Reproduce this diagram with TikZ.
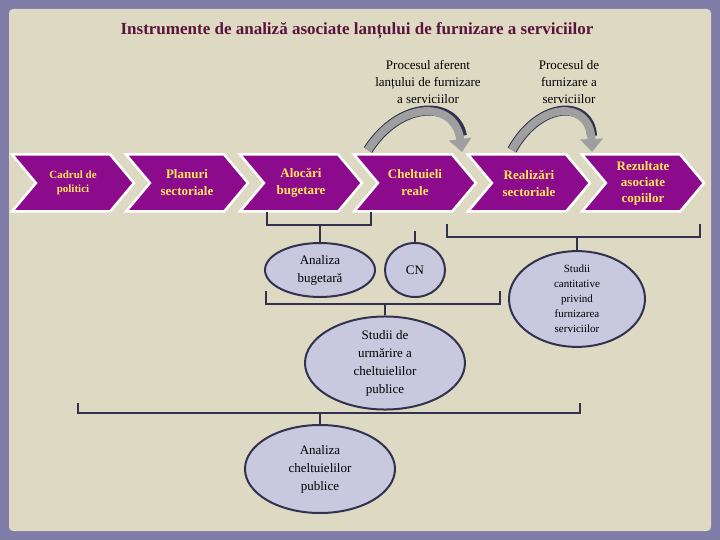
\documentclass[tikz,border=0pt]{standalone}
\usepackage{fontspec}
\setmainfont{Liberation Serif}
\usetikzlibrary{shapes.symbols,shapes.geometric,arrows.meta}
\definecolor{bgbeige}{RGB}{221,217,195}
\definecolor{framecol}{RGB}{128,124,168}
\definecolor{chevpurple}{RGB}{140,10,140}
\definecolor{chevtext}{RGB}{255,230,90}
\definecolor{ovalfill}{RGB}{200,200,222}
\definecolor{ovaldraw}{RGB}{50,50,80}
\definecolor{titlecol}{RGB}{90,20,60}
\tikzset{every picture/.style={line width=0.75pt}}
\tikzset{
  chev/.style={shape=signal, signal to=east, signal from=west, signal pointer angle=100,
    minimum width=122pt, minimum height=57pt, inner sep=0pt, draw=white, line width=2.5pt,
    fill=chevpurple, text=chevtext, align=center, font=\fontsize{13}{17}\selectfont\bfseries},
  oval/.style={ellipse, draw=ovaldraw, line width=2pt, fill=ovalfill, align=center, inner sep=0pt,
    font=\fontsize{13}{18}\selectfont},
  brack/.style={draw=ovaldraw, line width=2pt},
  bigarrow/.style={draw=gray!75, line width=8pt, -{Triangle[length=13pt,width=22pt]}},
}
\begin{document}
\begin{tikzpicture}[x=1pt,y=1pt,yscale=-1,xscale=1]
\useasboundingbox (0,0) rectangle (720,540);
\fill [framecol] (0,0) rectangle (720,540);
\fill [bgbeige, rounded corners=4pt] (9,9) rectangle (711,531);

%title
\node (title) at (357,31) [text=titlecol, font=\fontsize{17}{20}\selectfont\bfseries] {Instrumente de analiză asociate lanțului de furnizare a serviciilor};

%chevrons
\node [chev, font=\fontsize{11}{14}\selectfont\bfseries] (cadru) at (73,183) {Cadrul de\\politici};
\node [chev] (planuri) at (187,183) {Planuri\\sectoriale};
\node [chev] (alocari) at (301,183) {Alocări\\bugetare};
\node [chev] (chelt) at (415,183) {Cheltuieli\\reale};
\node [chev] (realiz) at (529,183) {Realizări\\sectoriale};
\node [chev, font=\fontsize{13}{16}\selectfont\bfseries] (rezult) at (643,183) {Rezultate\\asociate\\copiilor};

%process labels
\node (proc1) at (428,82) [align=center, font=\fontsize{13}{17}\selectfont] {Procesul aferent\\lanțului de furnizare\\a serviciilor};
\node (proc2) at (569,82) [align=center, font=\fontsize{13}{17}\selectfont] {Procesul de\\furnizare a\\serviciilor};
\draw [draw=ovaldraw, line width=10pt] (368,150) .. controls (400,100) and (455,100) .. (462,136);
\draw [bigarrow] (368,150) .. controls (400,100) and (455,100) .. (462,152);
\draw [draw=ovaldraw, line width=10pt] (512,150) .. controls (540,100) and (590,100) .. (592,136);
\draw [bigarrow] (512,150) .. controls (540,100) and (590,100) .. (592,152);

%ovals
\node [oval, minimum width=110pt, minimum height=54pt] (analbug) at (320,270) {Analiza\\bugetară};
\node [oval, minimum width=60pt, minimum height=54pt] (cn) at (415,270) {CN};
\node [oval, minimum width=136pt, minimum height=92pt, font=\fontsize{11}{15}\selectfont] (cantit) at (577,299) {Studii\\cantitative\\privind\\furnizarea\\serviciilor};
\node [oval, minimum width=160pt, minimum height=86pt] (urmarire) at (385,363) {Studii de\\urmărire a\\cheltuielilor\\publice};
\node [oval, minimum width=150pt, minimum height=88pt] (analchelt) at (320,469) {Analiza\\cheltuielilor\\publice};

%brackets
\draw [brack] (267,212) -- (267,225) -- (371,225) -- (371,212);
\draw [brack] (320,225) -- (analbug.north);
\draw [brack] (cn.north) -- ++(0,-11);
\draw [brack] (447,224) -- (447,237) -- (700,237) -- (700,224);
\draw [brack] (577,237) -- (cantit.north);
\draw [brack] (266,291) -- (266,304) -- (500,304) -- (500,291);
\draw [brack] (385,304) -- (urmarire.north);
\draw [brack] (78,403) -- (78,413) -- (580,413) -- (580,403);
\draw [brack] (320,413) -- (analchelt.north);
\end{tikzpicture}
\end{document}
